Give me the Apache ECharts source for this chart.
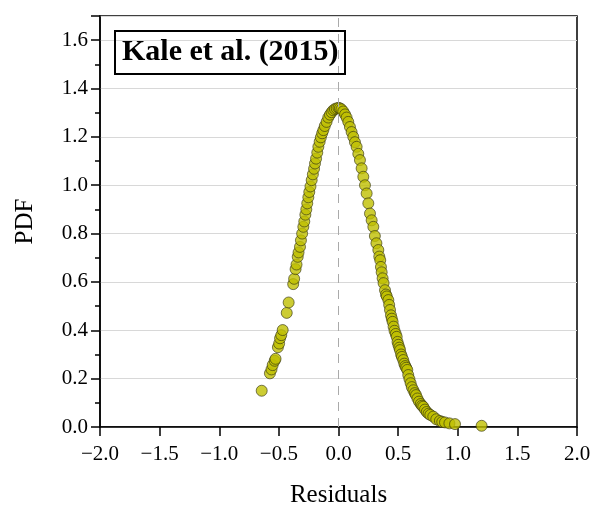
<!DOCTYPE html>
<html><head><meta charset="utf-8">
<script src="https://cdn.jsdelivr.net/npm/echarts@6/dist/echarts.min.js"></script>
<style>html,body{margin:0;padding:0;background:#fff}#c{width:592px;height:507px}</style>
</head><body><div id="c"></div>
<script>
const residuals = [-0.644,-0.575,-0.562,-0.552,-0.535,-0.528,-0.508,-0.498,-0.490,-0.480,-0.468,-0.434,-0.418,-0.380,-0.372,-0.360,-0.352,-0.342,-0.335,-0.323,-0.315,-0.305,-0.295,-0.287,-0.278,-0.270,-0.262,-0.253,-0.245,-0.235,-0.225,-0.215,-0.205,-0.197,-0.188,-0.178,-0.169,-0.158,-0.148,-0.137,-0.127,-0.115,-0.100,-0.086,-0.072,-0.058,-0.044,-0.030,-0.015,0.000,
0.012,0.025,0.040,0.055,0.068,0.082,0.096,0.110,0.124,0.138,0.152,0.166,0.180,0.194,0.208,0.222,0.236,0.250,0.264,0.278,0.292,0.305,0.318,0.334,0.342,0.350,0.356,0.362,0.370,0.378,0.390,0.398,0.405,0.418,0.425,0.432,0.440,0.447,0.454,0.462,0.470,0.480,0.488,0.495,0.502,0.510,0.516,0.525,0.532,0.543,0.552,0.560,0.568,0.577,0.585,0.595,0.605,0.615,0.628,0.640,0.650,0.662,0.675,0.690,0.700,0.711,0.725,0.740,0.755,0.770,0.795,0.820,0.850,0.870,0.893,0.930,0.977,1.200];
const pdf = [0.150,0.222,0.238,0.256,0.274,0.282,0.330,0.345,0.367,0.380,0.401,0.472,0.515,0.591,0.613,0.653,0.672,0.704,0.722,0.745,0.772,0.800,0.828,0.850,0.878,0.900,0.925,0.950,0.972,0.995,1.021,1.045,1.068,1.090,1.110,1.135,1.159,1.180,1.198,1.215,1.228,1.245,1.262,1.280,1.292,1.302,1.310,1.315,1.318,1.320,
1.318,1.314,1.305,1.293,1.280,1.262,1.241,1.220,1.200,1.178,1.159,1.130,1.104,1.070,1.035,1.000,0.966,0.925,0.883,0.855,0.828,0.790,0.760,0.732,0.705,0.690,0.662,0.640,0.615,0.595,0.566,0.548,0.540,0.525,0.505,0.484,0.462,0.448,0.435,0.415,0.398,0.385,0.373,0.352,0.340,0.328,0.318,0.300,0.290,0.277,0.262,0.252,0.245,0.236,0.215,0.198,0.181,0.165,0.152,0.140,0.132,0.118,0.105,0.095,0.088,0.084,0.072,0.062,0.055,0.050,0.043,0.032,0.025,0.021,0.019,0.015,0.012,0.005];
const xTicks = {min:-2, max:2, interval:0.5};
const yTicks = {min:0, max:1.7, interval:0.2};
const legendText = 'Kale et al. (2015)';

const points = residuals.map((x,i)=>[x,pdf[i]]);
const serif = 'Liberation Serif';
const chart = echarts.init(document.getElementById('c'));
chart.setOption({
  animation:false,
  title:{text:legendText,left:115,top:31,padding:[6,7,7,7],borderColor:'#000',borderWidth:2,
    textStyle:{fontFamily:serif,fontWeight:'bold',fontSize:30,color:'#000'}},
  grid:{left:100,right:15,top:16,bottom:80,outerBoundsMode:'none',containLabel:false,show:true,borderColor:'#000',borderWidth:1.5,backgroundColor:'transparent'},
  xAxis:{type:'value',min:xTicks.min,max:xTicks.max,interval:xTicks.interval,
    name:'Residuals',nameLocation:'middle',nameGap:56,
    nameTextStyle:{fontFamily:serif,fontSize:25,color:'#000'},
    axisLine:{onZero:false,lineStyle:{color:'#000',width:1.5}},
    axisTick:{show:true,inside:false,length:9,lineStyle:{color:'#000',width:1.5}},
    axisLabel:{margin:17,fontFamily:serif,fontSize:21,color:'#000',formatter:v=>v.toFixed(1).replace('-','\u2212')},
    splitLine:{show:false}},
  yAxis:{type:'value',min:yTicks.min,max:yTicks.max,interval:yTicks.interval,
    name:'PDF',nameLocation:'middle',nameGap:62,
    nameTextStyle:{fontFamily:serif,fontSize:25,color:'#000'},
    axisLine:{show:true,onZero:false,lineStyle:{color:'#000',width:1.5}},
    axisTick:{show:true,inside:false,length:9,lineStyle:{color:'#000',width:1.5}},
    minorTick:{show:true,splitNumber:2,length:5,lineStyle:{color:'#000',width:1.5}},
    axisLabel:{margin:12,showMaxLabel:false,fontFamily:serif,fontSize:21,color:'#000',formatter:v=>v.toFixed(1)},
    splitLine:{show:true,lineStyle:{color:'#d8d8d8',width:1}}},
  series:[{type:'scatter',data:points,symbol:'circle',symbolSize:11,
    itemStyle:{color:'#bfbf00',borderColor:'#333310',borderWidth:0.8},
    markLine:{silent:true,symbol:'none',label:{show:false},
      lineStyle:{color:'#aaaaaa',type:[9,7],width:1},
      data:[{xAxis:0}]},
    z:3}]
});
</script></body></html>
